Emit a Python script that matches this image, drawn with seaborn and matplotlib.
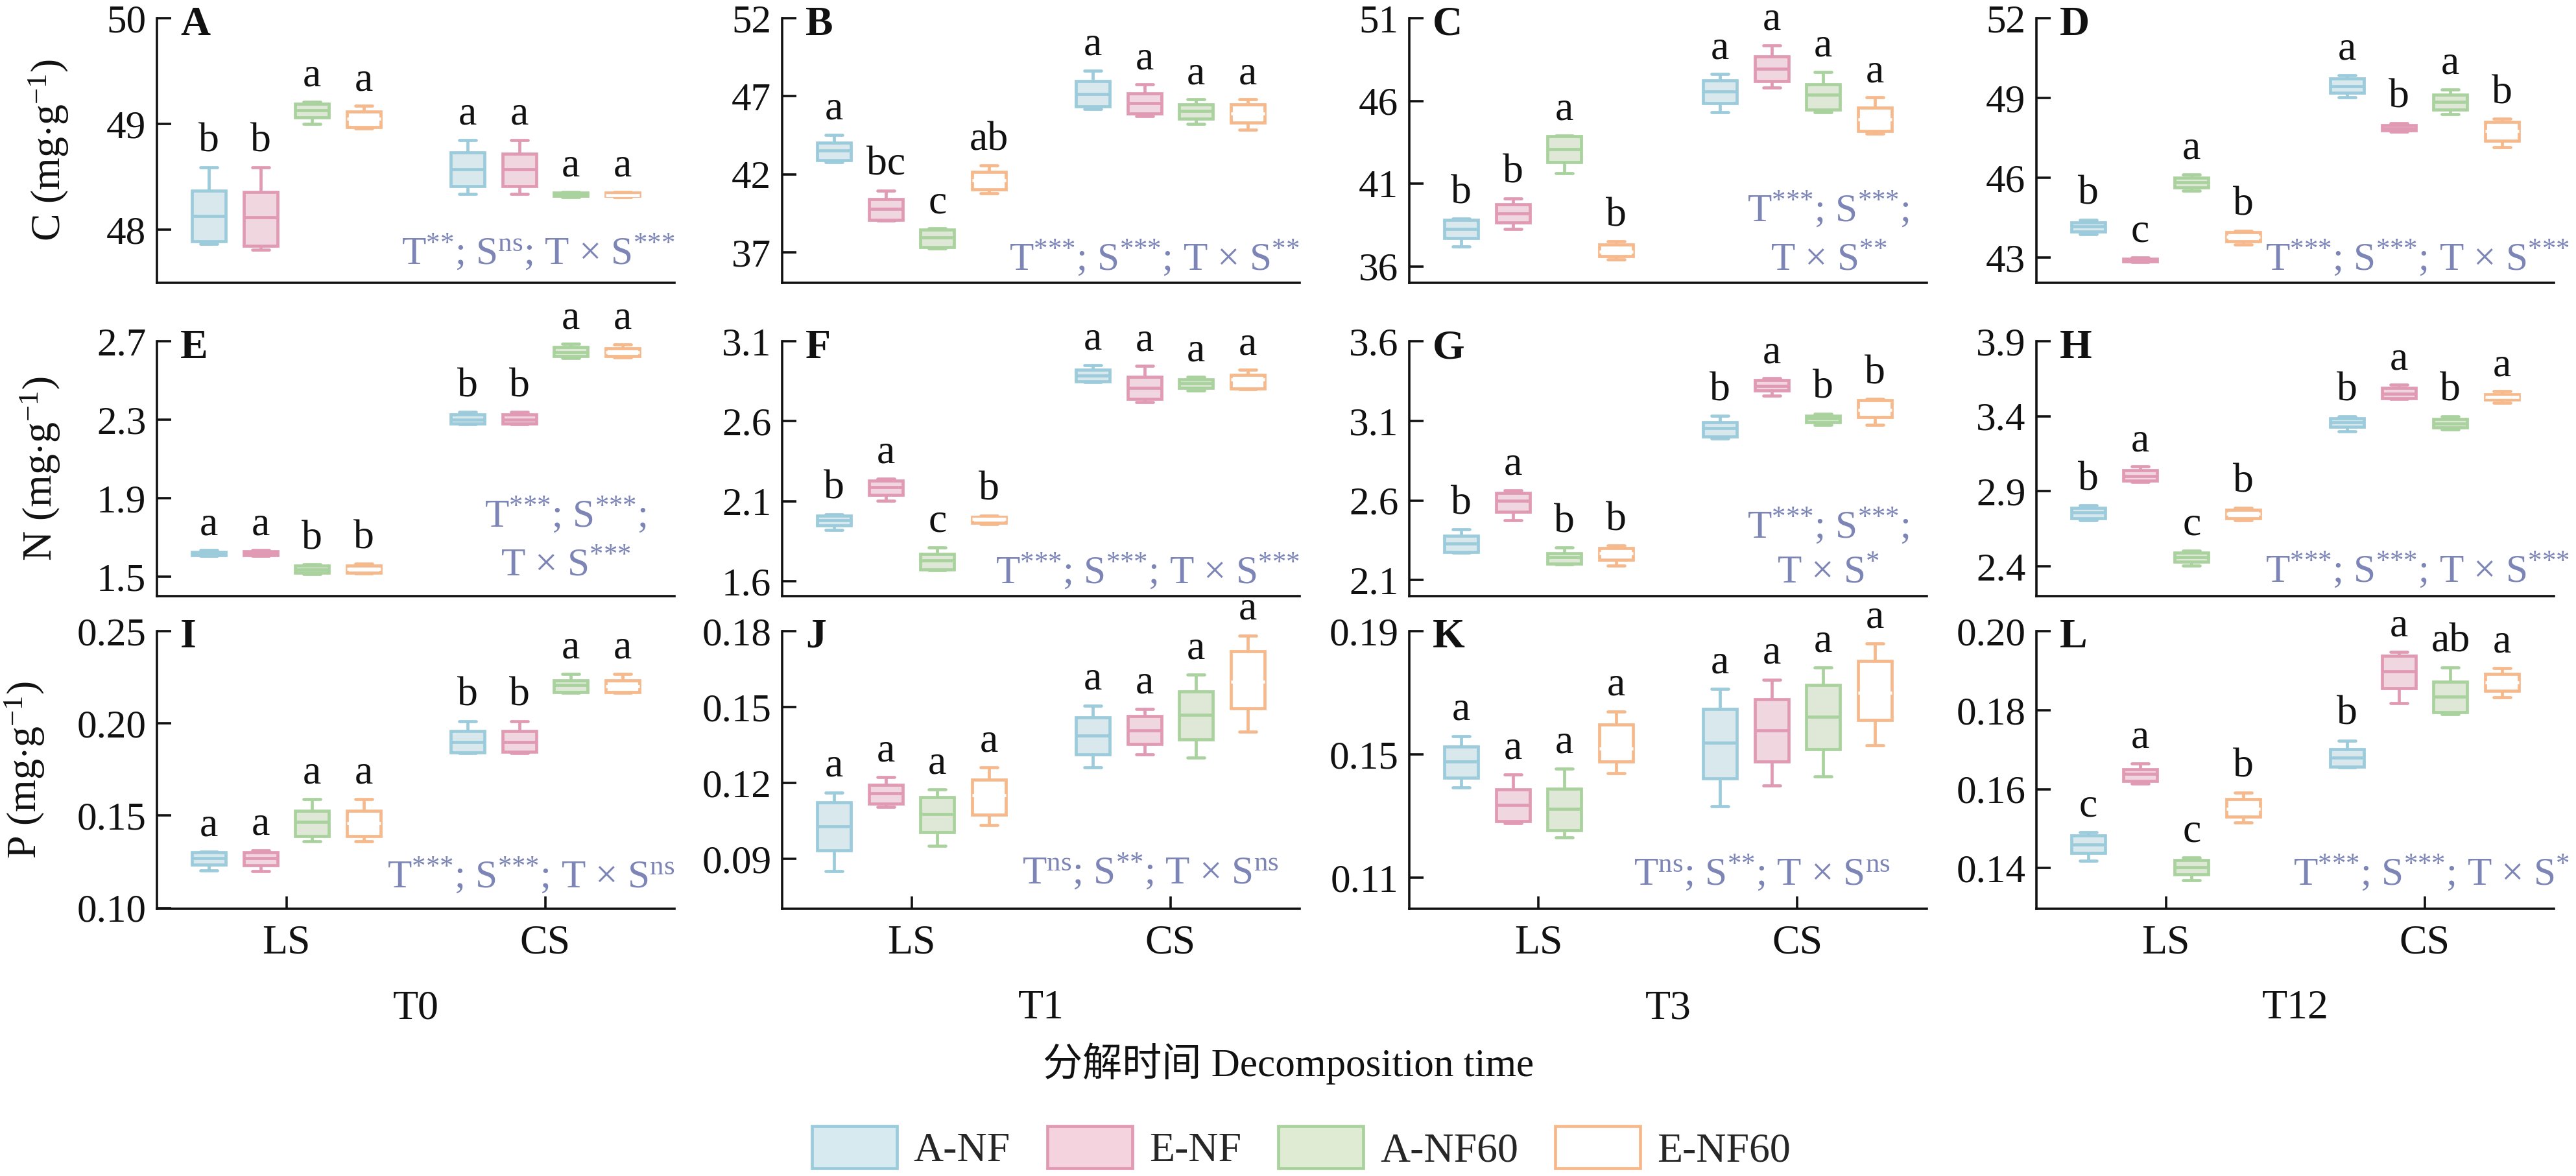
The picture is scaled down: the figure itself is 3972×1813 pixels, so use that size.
import numpy as np
import pandas as pd
import seaborn as sns
import matplotlib.pyplot as plt
from matplotlib.patches import Patch

sns.set_theme(style="ticks")
plt.rcParams['font.family'] = ['Liberation Serif', 'Noto Sans CJK SC']
plt.rcParams['mathtext.fontset'] = 'custom'
plt.rcParams['mathtext.rm'] = 'Liberation Serif'
plt.rcParams['mathtext.it'] = 'Liberation Serif:italic'

groups = ['A-NF', 'E-NF', 'A-NF60', 'E-NF60']
sites = ['LS', 'CS']
times = ['T0', 'T1', 'T3', 'T12']
fills = {'A-NF': '#d6eaf0', 'E-NF': '#f4d3de', 'A-NF60': '#dfebd3', 'E-NF60': '#ffffff'}
edges = {'A-NF': '#9ccbdc', 'E-NF': '#e19ab3', 'A-NF60': '#a9d29e', 'E-NF60': '#f6b98b'}
medians = {'A-NF': '#9ccbdc', 'E-NF': '#e19ab3', 'A-NF60': '#a9d29e', 'E-NF60': '#ffffff'}
stat_color = '#7c85b6'

# min, q1, median, q3, max  (order: LS A-NF, E-NF, A-NF60, E-NF60, CS A-NF, E-NF, A-NF60, E-NF60)
box_A = [[47.87, 47.89, 48.13, 48.37, 48.59], [47.81, 47.85, 48.12, 48.36, 48.59],
         [49.00, 49.06, 49.13, 49.19, 49.21], [48.96, 48.97, 49.05, 49.12, 49.17],
         [48.34, 48.41, 48.57, 48.73, 48.85], [48.34, 48.41, 48.57, 48.72, 48.85],
         [48.31, 48.32, 48.34, 48.35, 48.36], [48.31, 48.32, 48.33, 48.35, 48.36]]
box_B = [[42.78, 42.89, 43.53, 44.03, 44.53], [39.03, 39.08, 39.80, 40.42, 40.95],
         [37.27, 37.34, 37.96, 38.44, 38.53], [40.80, 41.04, 41.60, 42.16, 42.55],
         [46.18, 46.34, 47.16, 47.96, 48.64], [45.74, 45.90, 46.56, 47.18, 47.75],
         [45.22, 45.56, 46.04, 46.49, 46.79], [44.84, 45.33, 45.90, 46.49, 46.79]]
box_C = [[37.20, 37.70, 38.25, 38.80, 38.87], [38.25, 38.65, 39.20, 39.74, 40.10],
         [41.61, 42.30, 43.06, 43.85, 43.92], [36.40, 36.60, 36.90, 37.30, 37.50],
         [45.33, 45.86, 46.58, 47.24, 47.61], [46.79, 47.19, 47.94, 48.70, 49.36],
         [45.33, 45.46, 46.36, 47.01, 47.74], [44.02, 44.18, 44.90, 45.57, 46.20]]
box_D = [[43.87, 43.97, 44.16, 44.32, 44.42], [42.82, 42.85, 42.90, 42.95, 43.00],
         [45.51, 45.64, 45.84, 46.00, 46.12], [43.48, 43.61, 43.79, 43.96, 44.01],
         [49.02, 49.19, 49.45, 49.73, 49.85], [47.73, 47.78, 47.86, 47.97, 48.05],
         [48.38, 48.55, 48.86, 49.13, 49.32], [47.14, 47.40, 47.75, 48.09, 48.21]]
box_E = [[1.605, 1.610, 1.615, 1.625, 1.635], [1.605, 1.610, 1.618, 1.628, 1.635],
         [1.512, 1.518, 1.537, 1.555, 1.562], [1.515, 1.520, 1.540, 1.555, 1.565],
         [2.275, 2.280, 2.300, 2.325, 2.340], [2.275, 2.280, 2.300, 2.325, 2.340],
         [2.615, 2.625, 2.645, 2.670, 2.687], [2.618, 2.625, 2.645, 2.665, 2.685]]
box_F = [[1.920, 1.950, 1.980, 2.011, 2.019], [2.104, 2.140, 2.190, 2.230, 2.242],
         [1.668, 1.675, 1.730, 1.772, 1.813], [1.955, 1.965, 1.990, 2.000, 2.011],
         [2.845, 2.850, 2.885, 2.920, 2.952], [2.721, 2.738, 2.810, 2.879, 2.944],
         [2.790, 2.810, 2.835, 2.859, 2.879], [2.800, 2.806, 2.860, 2.891, 2.920]]
box_G = [[2.272, 2.276, 2.329, 2.377, 2.418], [2.478, 2.530, 2.600, 2.649, 2.665],
         [2.200, 2.205, 2.245, 2.268, 2.306], [2.190, 2.226, 2.270, 2.300, 2.318],
         [2.990, 3.000, 3.056, 3.092, 3.132], [3.258, 3.290, 3.320, 3.355, 3.367],
         [3.075, 3.090, 3.115, 3.130, 3.145], [3.076, 3.124, 3.170, 3.230, 3.238]]
box_H = [[2.704, 2.720, 2.760, 2.790, 2.804], [2.963, 2.970, 3.000, 3.040, 3.065],
         [2.404, 2.430, 2.460, 2.490, 2.504], [2.708, 2.720, 2.750, 2.775, 2.790],
         [3.300, 3.330, 3.360, 3.385, 3.400], [3.513, 3.520, 3.550, 3.587, 3.609],
         [3.310, 3.325, 3.350, 3.380, 3.400], [3.490, 3.510, 3.530, 3.545, 3.565]]
box_I = [[0.1204, 0.1233, 0.1270, 0.1300, 0.1303], [0.1200, 0.1230, 0.1270, 0.1300, 0.1310],
         [0.1360, 0.1390, 0.1465, 0.1525, 0.1588], [0.1360, 0.1390, 0.1460, 0.1525, 0.1588],
         [0.1840, 0.1842, 0.1898, 0.1958, 0.2010], [0.1840, 0.1845, 0.1900, 0.1960, 0.2010],
         [0.2165, 0.2169, 0.2208, 0.2232, 0.2268], [0.2165, 0.2169, 0.2200, 0.2232, 0.2268]]
box_J = [[0.0850, 0.0932, 0.1027, 0.1122, 0.1162], [0.1104, 0.1118, 0.1158, 0.1192, 0.1222],
         [0.0950, 0.1004, 0.1076, 0.1142, 0.1174], [0.1032, 0.1073, 0.1150, 0.1212, 0.1261],
         [0.1260, 0.1312, 0.1388, 0.1459, 0.1506], [0.1312, 0.1353, 0.1408, 0.1464, 0.1492],
         [0.1301, 0.1371, 0.1469, 0.1562, 0.1627], [0.1402, 0.1495, 0.1600, 0.1721, 0.1783]]
box_K = [[0.1392, 0.1424, 0.1477, 0.1525, 0.1560], [0.1277, 0.1283, 0.1335, 0.1387, 0.1434],
         [0.1230, 0.1253, 0.1323, 0.1389, 0.1453], [0.1438, 0.1477, 0.1520, 0.1597, 0.1640],
         [0.1331, 0.1422, 0.1537, 0.1648, 0.1712], [0.1399, 0.1477, 0.1578, 0.1679, 0.1743],
         [0.1428, 0.1517, 0.1622, 0.1725, 0.1782], [0.1529, 0.1611, 0.1700, 0.1803, 0.1859]]
box_L = [[0.1418, 0.1438, 0.1459, 0.1482, 0.1491], [0.1614, 0.1620, 0.1638, 0.1650, 0.1665],
         [0.1369, 0.1384, 0.1402, 0.1420, 0.1426], [0.1516, 0.1530, 0.1550, 0.1575, 0.1591],
         [0.1655, 0.1656, 0.1680, 0.1701, 0.1723], [0.1818, 0.1856, 0.1898, 0.1937, 0.1947],
         [0.1789, 0.1795, 0.1834, 0.1872, 0.1908], [0.1833, 0.1849, 0.1870, 0.1891, 0.1906]]

letters = {
    'A': ['b', 'b', 'a', 'a', 'a', 'a', 'a', 'a'],
    'B': ['a', 'bc', 'c', 'ab', 'a', 'a', 'a', 'a'],
    'C': ['b', 'b', 'a', 'b', 'a', 'a', 'a', 'a'],
    'D': ['b', 'c', 'a', 'b', 'a', 'b', 'a', 'b'],
    'E': ['a', 'a', 'b', 'b', 'b', 'b', 'a', 'a'],
    'F': ['b', 'a', 'c', 'b', 'a', 'a', 'a', 'a'],
    'G': ['b', 'a', 'b', 'b', 'b', 'a', 'b', 'b'],
    'H': ['b', 'a', 'c', 'b', 'b', 'a', 'b', 'a'],
    'I': ['a', 'a', 'a', 'a', 'b', 'b', 'a', 'a'],
    'J': ['a', 'a', 'a', 'a', 'a', 'a', 'a', 'a'],
    'K': ['a', 'a', 'a', 'a', 'a', 'a', 'a', 'a'],
    'L': ['c', 'a', 'c', 'b', 'b', 'a', 'ab', 'a'],
}

ylims = {'A': (47.5, 50), 'B': (35.05, 52), 'C': (35.0, 51), 'D': (42.05, 52),
         'E': (1.40, 2.7), 'F': (1.507, 3.1), 'G': (2.0, 3.6), 'H': (2.2, 3.9),
         'I': (0.0995, 0.25), 'J': (0.0702, 0.18), 'K': (0.0999, 0.19), 'L': (0.1297, 0.20)}
yticks = {'A': [48, 49, 50], 'B': [37, 42, 47, 52], 'C': [36, 41, 46, 51], 'D': [43, 46, 49, 52],
          'E': [1.5, 1.9, 2.3, 2.7], 'F': [1.6, 2.1, 2.6, 3.1], 'G': [2.1, 2.6, 3.1, 3.6],
          'H': [2.4, 2.9, 3.4, 3.9], 'I': [0.10, 0.15, 0.20, 0.25], 'J': [0.09, 0.12, 0.15, 0.18],
          'K': [0.11, 0.15, 0.19], 'L': [0.14, 0.16, 0.18, 0.20]}
tick_fmt = {'A': '{:.0f}', 'B': '{:.0f}', 'C': '{:.0f}', 'D': '{:.0f}',
            'E': '{:.1f}', 'F': '{:.1f}', 'G': '{:.1f}', 'H': '{:.1f}',
            'I': '{:.2f}', 'J': '{:.2f}', 'K': '{:.2f}', 'L': '{:.2f}'}

S3 = '{*}{*}{*}'
S2 = '{*}{*}'
S1 = '{*}'
NS = '\\mathrm{ns}'


def sig(t, s, ts):
    return 'T$^{%s}$; S$^{%s}$; T × S$^{%s}$' % (t, s, ts)


# stats text: lines, x (axes frac), baselines, alignment
stats = {
    'A': ([sig(S2, NS, S3)], 1.0, [0.07], 'right'),
    'B': ([sig(S3, S3, S2)], 1.0, [0.047], 'right'),
    'C': (['T$^{%s}$; S$^{%s}$;' % (S3, S3), 'T × S$^{%s}$' % S2], 0.81, [0.23, 0.047], 'center'),
    'D': ([sig(S3, S3, S3)], 1.03, [0.047], 'right'),
    'E': (['T$^{%s}$; S$^{%s}$;' % (S3, S3), 'T × S$^{%s}$' % S3], 0.79, [0.27, 0.081], 'center'),
    'F': ([sig(S3, S3, S3)], 1.0, [0.048], 'right'),
    'G': (['T$^{%s}$; S$^{%s}$;' % (S3, S3), 'T × S$^{%s}$' % S1], 0.81, [0.226, 0.053], 'center'),
    'H': ([sig(S3, S3, S3)], 1.03, [0.053], 'right'),
    'I': ([sig(S3, S3, NS)], 1.0, [0.075], 'right'),
    'J': ([sig(NS, S2, NS)], 0.96, [0.089], 'right'),
    'K': ([sig(NS, S2, NS)], 0.93, [0.086], 'right'),
    'L': ([sig(S3, S3, S1)], 1.03, [0.086], 'right'),
}

boxes = {'A': box_A, 'B': box_B, 'C': box_C, 'D': box_D, 'E': box_E, 'F': box_F,
         'G': box_G, 'H': box_H, 'I': box_I, 'J': box_J, 'K': box_K, 'L': box_L}
panel_rows = [['A', 'B', 'C', 'D'], ['E', 'F', 'G', 'H'], ['I', 'J', 'K', 'L']]
ylabels = ['C (mg$\\cdot$g$^{-1}$)', 'N (mg$\\cdot$g$^{-1}$)', 'P (mg$\\cdot$g$^{-1}$)']
ylabel_x = [75, 62, 38]

W, H = 3973, 1813
fig = plt.figure(figsize=(W / 100, H / 100), dpi=100)
FS = 46
col_left = [242, 1206, 2173, 3140]
col_w = 798
row_tb = [(28, 436), (526, 919), (973, 1401)]
offsets = [-0.3, -0.1, 0.1, 0.3]

for r, row in enumerate(panel_rows):
    top, bot = row_tb[r]
    for c, key in enumerate(row):
        ax = fig.add_axes([col_left[c] / W, 1 - bot / H, col_w / W, (bot - top) / H])
        recs = []
        for i, st in enumerate(boxes[key]):
            for v in st:
                recs.append({'site': sites[i // 4], 'group': groups[i % 4], 'v': v})
        df = pd.DataFrame(recs)
        for g in groups:
            sns.boxplot(data=df[df['group'] == g], x='site', y='v', hue='group',
                        order=sites, hue_order=groups, dodge=True, width=0.8, gap=0.35,
                        palette=fills, linecolor=edges[g], linewidth=3.4,
                        whis=(0, 100), showfliers=False, legend=False,
                        medianprops={'color': medians[g], 'linewidth': 3.4}, ax=ax)
        lo, hi = ylims[key]
        pad = (hi - lo) * 0.025
        for i, st in enumerate(boxes[key]):
            x = i // 4 + offsets[i % 4]
            ax.text(x, st[4] + pad, letters[key][i], ha='center', va='bottom',
                    fontsize=FS, color='#111111')
        ax.set_xlim(-0.5, 1.5)
        ax.set_ylim(lo, hi)
        ax.set_yticks(yticks[key])
        ax.set_yticklabels([tick_fmt[key].format(t) for t in yticks[key]])
        ax.set_xlabel('')
        ax.set_ylabel('')
        for s in ['top', 'right']:
            ax.spines[s].set_visible(False)
        for s in ['left', 'bottom']:
            ax.spines[s].set_linewidth(2.6)
            ax.spines[s].set_color('#111111')
        ax.tick_params(axis='y', direction='in', length=16, width=2.6, labelsize=44,
                       colors='#111111', pad=12)
        if r == 2:
            ax.tick_params(axis='x', direction='in', length=14, width=2.6, labelsize=FS,
                           colors='#111111', pad=18)
            ax.text(0.5, -0.36, times[c], transform=ax.transAxes, ha='center', va='center',
                    fontsize=FS, color='#111111')
        else:
            ax.set_xticks([])
        ax.text(0.045, 1.045, key, transform=ax.transAxes, ha='left', va='top',
                fontsize=FS, fontweight='bold', color='#111111')
        lines, sx, ys, ha = stats[key]
        for ln, yy in zip(lines, ys):
            ax.text(sx, yy, ln, transform=ax.transAxes, ha=ha, va='baseline',
                    fontsize=44, color=stat_color, clip_on=False)
    fig.text(ylabel_x[r] / W, 1 - (top + bot) / 2 / H, ylabels[r], rotation=90,
             ha='center', va='center', fontsize=FS, color='#111111')

fig.text(0.5, 1 - 1640 / H, '分解时间 Decomposition time', ha='center', va='center',
         fontsize=44, color='#111111', family=['Liberation Serif', 'Noto Sans CJK SC'])

handles = [Patch(facecolor=fills[g], edgecolor=edges[g], linewidth=3.4, label=g) for g in groups]
fig.legend(handles=handles, loc='center', bbox_to_anchor=(0.505, 1 - 1770 / H), ncol=4,
           frameon=False, fontsize=FS, handlelength=2.05, handleheight=1.2,
           handletextpad=0.4, columnspacing=0.9)

fig.savefig('out.png', dpi=100)
